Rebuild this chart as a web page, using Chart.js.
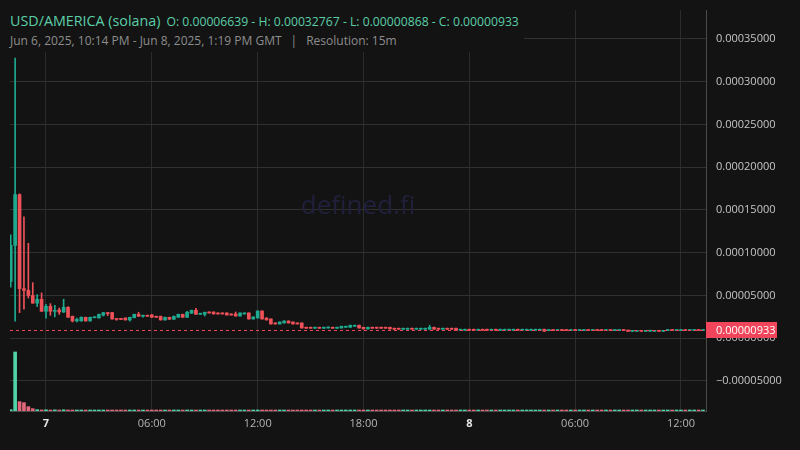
<!DOCTYPE html>
<html>
<head>
<meta charset="utf-8">
<script src="https://cdn.jsdelivr.net/npm/chart.js@4.4.1/dist/chart.umd.min.js"></script>
<style>
  html, body { margin: 0; padding: 0; background: #131313; }
  #wrap { position: relative; width: 800px; height: 450px; font-family: "Open Sans", sans-serif; }
  #c { position: absolute; left: 0; top: 0; }
  #hdr { position: absolute; left: 0; top: 0; width: 524px; height: 52px; background: #131313; }
  .l1 { position: absolute; left: 10px; top: 10px; line-height: 20px; white-space: nowrap; color: #5ccfa8; }
  .l1 .pair { font-size: 14.3px; }
  .l1 .ohlc { font-size: 12.2px; margin-left: 6px; }
  .l2 { position: absolute; left: 10px; top: 33px; line-height: 16px; font-size: 12px; color: #8d8d8d; white-space: nowrap; }
  .l2 .sep { margin: 0 9px; }
</style>
</head>
<body>
<div id="wrap">
  <canvas id="c" width="800" height="450"></canvas>
  <div id="hdr">
    <div class="l1"><span class="pair">USD/AMERICA (solana)</span><span class="ohlc">O: 0.00006639 - H: 0.00032767 - L: 0.00000868 - C: 0.00000933</span></div>
    <div class="l2">Jun 6, 2025, 10:14 PM - Jun 8, 2025, 1:19 PM GMT<span class="sep">|</span>Resolution: 15m</div>
  </div>
</div>
<script>
// candles: 15m, first one Jun 6 22:00 (hours counted from Jun 7 00:00)
const startHour = -2;
const stepHour = 0.25;

const opens = [
  6.639e-5, 1.086e-4, 1.68e-4, 5.8e-5, 5.6e-5, 5.0e-5, 4.1e-5, 4.55e-5, 3.15e-5, 3.74e-5,
  3.15e-5, 3.3e-5, 3.07e-5, 3.62e-5, 2.57e-5, 2.02e-5, 2.02e-5, 2.45e-5, 2.02e-5, 2.4e-5,
  2.37e-5, 2.7e-5, 3.0e-5, 3.0e-5, 2.3e-5, 2.3e-5, 2.37e-5, 2.14e-5, 2.4e-5, 2.8e-5,
  2.57e-5, 2.69e-5, 2.72e-5, 2.57e-5, 2.57e-5, 2.14e-5, 2.45e-5, 2.22e-5, 2.45e-5, 2.8e-5,
  2.45e-5, 2.92e-5, 3.27e-5, 2.8e-5, 2.8e-5, 3.07e-5, 3.07e-5, 2.96e-5, 2.96e-5, 2.96e-5,
  2.84e-5, 2.84e-5, 2.6e-5, 2.84e-5, 2.96e-5, 2.25e-5, 2.37e-5, 3.19e-5, 2.37e-5, 2.25e-5,
  1.79e-5, 1.67e-5, 1.79e-5, 2.02e-5, 1.9e-5, 1.79e-5, 1.79e-5, 1.28e-5, 1.28e-5, 1.17e-5,
  1.28e-5, 1.17e-5, 1.2e-5, 1.28e-5, 1.17e-5, 1.2e-5, 1.28e-5, 1.28e-5, 1.4e-5, 1.52e-5,
  1.28e-5, 1.09e-5, 1.28e-5, 1.28e-5, 1.28e-5, 1.28e-5, 1.28e-5, 1.17e-5, 1.17e-5, 1.05e-5,
  1.05e-5, 1.17e-5, 1.05e-5, 1.05e-5, 1.05e-5, 1.05e-5, 1.28e-5, 1.17e-5, 1.05e-5, 1.17e-5,
  1.17e-5, 1.17e-5, 9.3e-6, 9.3e-6, 1.05e-5, 1.05e-5, 9.3e-6, 1.05e-5, 1.05e-5, 9.3e-6,
  1.05e-5, 9.3e-6, 9.3e-6, 9.3e-6, 9.3e-6, 1.05e-5, 9.3e-6, 9.3e-6, 9.3e-6, 9.3e-6,
  9.3e-6, 1.05e-5, 9.0e-6, 9.5e-6, 9.0e-6, 9.5e-6, 9.5e-6, 9.0e-6, 9.5e-6, 9.0e-6,
  9.0e-6, 9.5e-6, 9.0e-6, 9.5e-6, 9.5e-6, 9.0e-6, 9.5e-6, 9.0e-6, 9.0e-6, 9.5e-6,
  9.5e-6, 8.0e-6, 8.1e-6, 8.6e-6, 8.0e-6, 8.2e-6, 8.0e-6, 8.6e-6, 8.1e-6, 9.0e-6,
  9.4e-6, 9.0e-6, 9.0e-6, 9.4e-6, 9.0e-6, 9.1e-6, 9.4e-6, 9.0e-6
];
const highs = [
  1.21e-4, 3.2767e-4, 1.69e-4, 1.42e-4, 1.11e-4, 6.5e-5, 5.1e-5, 5.3e-5, 3.97e-5, 4.05e-5,
  3.85e-5, 3.54e-5, 4.56e-5, 3.7e-5, 2.6e-5, 2.37e-5, 2.5e-5, 2.47e-5, 2.47e-5, 2.52e-5,
  2.82e-5, 3.02e-5, 3.02e-5, 3.02e-5, 2.32e-5, 2.32e-5, 2.39e-5, 2.47e-5, 2.82e-5, 3.04e-5,
  2.71e-5, 2.71e-5, 2.8e-5, 2.59e-5, 2.59e-5, 2.47e-5, 2.47e-5, 2.59e-5, 2.82e-5, 2.82e-5,
  3.15e-5, 3.29e-5, 3.5e-5, 2.94e-5, 3.06e-5, 3.09e-5, 3.09e-5, 2.98e-5, 2.98e-5, 2.98e-5,
  2.86e-5, 3.07e-5, 2.98e-5, 2.98e-5, 2.98e-5, 2.51e-5, 3.21e-5, 3.21e-5, 2.39e-5, 2.27e-5,
  1.81e-5, 1.92e-5, 2.04e-5, 2.04e-5, 1.92e-5, 1.81e-5, 1.81e-5, 1.3e-5, 1.3e-5, 1.3e-5,
  1.3e-5, 1.3e-5, 1.32e-5, 1.3e-5, 1.3e-5, 1.42e-5, 1.42e-5, 1.54e-5, 1.54e-5, 1.54e-5,
  1.3e-5, 1.3e-5, 1.3e-5, 1.3e-5, 1.3e-5, 1.3e-5, 1.3e-5, 1.19e-5, 1.19e-5, 1.19e-5,
  1.19e-5, 1.19e-5, 1.19e-5, 1.19e-5, 1.19e-5, 1.52e-5, 1.3e-5, 1.19e-5, 1.19e-5, 1.19e-5,
  1.19e-5, 1.19e-5, 1.07e-5, 1.07e-5, 1.07e-5, 1.07e-5, 1.07e-5, 1.07e-5, 1.07e-5, 1.07e-5,
  1.07e-5, 1.07e-5, 1.07e-5, 1.07e-5, 1.07e-5, 1.07e-5, 1.07e-5, 1.07e-5, 1.07e-5, 1.07e-5,
  1.07e-5, 1.07e-5, 9.6e-6, 9.6e-6, 9.6e-6, 9.6e-6, 9.6e-6, 9.6e-6, 9.6e-6, 9.6e-6,
  9.6e-6, 9.6e-6, 9.6e-6, 9.6e-6, 9.6e-6, 9.6e-6, 9.6e-6, 9.6e-6, 9.6e-6, 9.6e-6,
  9.6e-6, 8.7e-6, 8.7e-6, 8.7e-6, 8.7e-6, 8.7e-6, 8.7e-6, 8.7e-6, 8.7e-6, 9.5e-6,
  9.5e-6, 9.5e-6, 9.5e-6, 9.5e-6, 9.5e-6, 9.5e-6, 9.5e-6, 9.5e-6
];
const lows = [
  5.96e-5, 2.0e-5, 3.0e-5, 3.4e-5, 4.7e-5, 4.1e-5, 3.7e-5, 3.15e-5, 2.34e-5, 2.69e-5,
  2.5e-5, 2.8e-5, 3.0e-5, 2.45e-5, 1.9e-5, 1.9e-5, 2.0e-5, 2.0e-5, 2.0e-5, 2.38e-5,
  2.35e-5, 2.6e-5, 2.65e-5, 2.23e-5, 2.1e-5, 2.18e-5, 2.12e-5, 2.0e-5, 2.38e-5, 2.55e-5,
  2.45e-5, 2.55e-5, 2.43e-5, 2.43e-5, 2.12e-5, 2.12e-5, 2.2e-5, 2.2e-5, 2.43e-5, 2.43e-5,
  2.43e-5, 2.9e-5, 2.78e-5, 2.78e-5, 2.6e-5, 2.94e-5, 2.82e-5, 2.82e-5, 2.82e-5, 2.7e-5,
  2.7e-5, 2.58e-5, 2.58e-5, 2.82e-5, 2.23e-5, 2.23e-5, 2.35e-5, 2.23e-5, 2.12e-5, 1.65e-5,
  1.65e-5, 1.65e-5, 1.77e-5, 1.77e-5, 1.65e-5, 1.65e-5, 1.18e-5, 1.15e-5, 1.15e-5, 1.15e-5,
  1.15e-5, 1.15e-5, 1.18e-5, 1.15e-5, 1.15e-5, 1.18e-5, 1.26e-5, 1.26e-5, 1.38e-5, 1.18e-5,
  1.07e-5, 1.07e-5, 1.15e-5, 1.15e-5, 1.15e-5, 1.15e-5, 1.07e-5, 1.03e-5, 1.03e-5, 1.03e-5,
  1.03e-5, 1.03e-5, 1.03e-5, 1.03e-5, 1.03e-5, 1.03e-5, 1.03e-5, 1.03e-5, 1.03e-5, 1.03e-5,
  1.03e-5, 9.1e-6, 9.1e-6, 9.1e-6, 9.1e-6, 9.1e-6, 9.1e-6, 9.1e-6, 9.1e-6, 9.1e-6,
  9.1e-6, 9.1e-6, 9.1e-6, 9.1e-6, 9.1e-6, 9.1e-6, 9.1e-6, 9.1e-6, 9.1e-6, 9.1e-6,
  9.1e-6, 8.0e-6, 8.9e-6, 8.9e-6, 8.9e-6, 8.9e-6, 8.9e-6, 8.9e-6, 8.9e-6, 8.9e-6,
  8.9e-6, 8.9e-6, 8.9e-6, 8.9e-6, 8.9e-6, 8.9e-6, 8.9e-6, 8.9e-6, 8.9e-6, 8.9e-6,
  7.9e-6, 7.9e-6, 7.9e-6, 7.9e-6, 7.9e-6, 7.9e-6, 7.9e-6, 7.9e-6, 7.9e-6, 8.9e-6,
  8.9e-6, 8.9e-6, 8.9e-6, 8.9e-6, 8.9e-6, 8.9e-6, 8.9e-6, 8.9e-6
];
const closes = [
  1.086e-4, 1.68e-4, 5.8e-5, 5.6e-5, 5.0e-5, 4.1e-5, 4.55e-5, 3.15e-5, 3.74e-5, 3.15e-5,
  3.25e-5, 3.07e-5, 3.62e-5, 2.45e-5, 2.02e-5, 2.2e-5, 2.45e-5, 2.02e-5, 2.45e-5, 2.5e-5,
  2.8e-5, 3.0e-5, 2.88e-5, 2.25e-5, 2.2e-5, 2.2e-5, 2.14e-5, 2.45e-5, 2.8e-5, 2.57e-5,
  2.69e-5, 2.57e-5, 2.45e-5, 2.45e-5, 2.14e-5, 2.45e-5, 2.22e-5, 2.57e-5, 2.8e-5, 2.45e-5,
  3.04e-5, 3.27e-5, 2.8e-5, 2.92e-5, 3.04e-5, 2.96e-5, 2.84e-5, 2.84e-5, 2.84e-5, 2.72e-5,
  2.72e-5, 2.6e-5, 2.96e-5, 2.96e-5, 2.25e-5, 2.49e-5, 3.19e-5, 2.25e-5, 2.14e-5, 1.67e-5,
  1.67e-5, 1.9e-5, 2.02e-5, 1.79e-5, 1.67e-5, 1.67e-5, 1.2e-5, 1.17e-5, 1.17e-5, 1.28e-5,
  1.17e-5, 1.28e-5, 1.3e-5, 1.17e-5, 1.28e-5, 1.4e-5, 1.4e-5, 1.52e-5, 1.52e-5, 1.2e-5,
  1.09e-5, 1.28e-5, 1.17e-5, 1.17e-5, 1.17e-5, 1.17e-5, 1.09e-5, 1.05e-5, 1.05e-5, 1.17e-5,
  1.17e-5, 1.05e-5, 1.17e-5, 1.17e-5, 1.17e-5, 1.28e-5, 1.05e-5, 1.05e-5, 1.17e-5, 1.05e-5,
  1.05e-5, 9.3e-6, 1.05e-5, 1.05e-5, 9.3e-6, 9.3e-6, 1.05e-5, 9.3e-6, 9.3e-6, 1.05e-5,
  9.3e-6, 1.05e-5, 1.05e-5, 1.05e-5, 1.05e-5, 9.3e-6, 1.05e-5, 1.05e-5, 1.05e-5, 1.05e-5,
  1.05e-5, 8.2e-6, 9.5e-6, 9.0e-6, 9.5e-6, 9.0e-6, 9.0e-6, 9.5e-6, 9.0e-6, 9.5e-6,
  9.5e-6, 9.0e-6, 9.5e-6, 9.0e-6, 9.0e-6, 9.5e-6, 9.0e-6, 9.5e-6, 9.5e-6, 9.0e-6,
  8.0e-6, 8.6e-6, 8.6e-6, 8.1e-6, 8.5e-6, 8.6e-6, 8.6e-6, 8.1e-6, 8.6e-6, 9.4e-6,
  9.0e-6, 9.4e-6, 9.3e-6, 9.0e-6, 9.3e-6, 9.4e-6, 9.1e-6, 9.33e-6
];
const volumes = [
  1500, 68000, 10800, 9600, 5000, 2700, 1500, 1200, 1400, 800,
  1300, 600, 1400, 900, 700, 500, 600, 400, 500, 300,
  600, 500, 300, 600, 400, 300, 400, 500, 600, 500,
  300, 300, 400, 300, 500, 400, 400, 500, 500, 500,
  700, 600, 700, 300, 400, 300, 400, 300, 300, 400,
  300, 400, 400, 300, 600, 400, 800, 800, 400, 600,
  300, 400, 400, 300, 400, 300, 600, 300, 250, 300,
  250, 300, 300, 250, 300, 400, 300, 400, 300, 400,
  400, 400, 300, 250, 300, 250, 400, 300, 250, 300,
  250, 300, 250, 300, 250, 500, 400, 300, 250, 300,
  300, 400, 250, 300, 250, 300, 250, 300, 250, 300,
  250, 300, 250, 300, 250, 300, 250, 300, 250, 300,
  250, 400, 250, 300, 250, 300, 250, 300, 250, 300,
  250, 300, 250, 300, 250, 300, 250, 300, 250, 300,
  400, 300, 250, 300, 250, 300, 250, 300, 250, 300,
  250, 300, 250, 300, 250, 300, 250, 300
];

const timeTicks = [0, 6, 12, 18, 24, 30, 36];
const timeLabels = ['7', '06:00', '12:00', '18:00', '8', '06:00', '12:00'];
const priceTicks = [-0.00005, 0, 0.00005, 0.0001, 0.00015, 0.0002, 0.00025, 0.0003, 0.00035];
const lastPrice = 0.00000933;

const UP = '#1fa98f', DOWN = '#ef5159';
const VOL_UP = '#4fd3a7', VOL_DOWN = '#e3677a';
const FONT = '"Open Sans", sans-serif';

const times = opens.map((_, i) => startHour + i * stepHour);
const isUp = opens.map((o, i) => closes[i] >= o);

const bodies = times.map((t, i) => ({ x: t, y: [opens[i], closes[i]] }));
const wicks = times.map((t, i) => ({ x: t, y: [lows[i], highs[i]] }));
const vols = times.map((t, i) => ({ x: t, y: volumes[i] }));

function priceLabel(v) {
  const s = Math.abs(v).toFixed(8);
  return v < -1e-12 ? '\u2212' + s : s;
}

// watermark, price line and last price tag
const overlay = {
  id: 'overlay',
  beforeDatasetsDraw(chart) {
    const { ctx, chartArea } = chart;
    ctx.save();
    ctx.font = '26px ' + FONT;
    ctx.fillStyle = '#20203c';
    ctx.textAlign = 'center';
    ctx.textBaseline = 'middle';
    ctx.fillText('defined.fi', (chartArea.left + chartArea.right) / 2, 207);
    ctx.restore();
  },
  afterDatasetsDraw(chart) {
    const { ctx, chartArea } = chart;
    const y = Math.round(chart.scales.y.getPixelForValue(lastPrice)) + 0.5;
    ctx.save();
    ctx.strokeStyle = '#f0455a';
    ctx.lineWidth = 1;
    ctx.setLineDash([3, 3]);
    ctx.beginPath();
    ctx.moveTo(chartArea.left, y);
    ctx.lineTo(chartArea.right, y);
    ctx.stroke();
    ctx.restore();
  },
  afterDraw(chart) {
    const { ctx, chartArea } = chart;
    const y = Math.round(chart.scales.y.getPixelForValue(lastPrice));
    ctx.save();
    ctx.fillStyle = '#f0455a';
    ctx.fillRect(chartArea.right, y - 8, 71, 16);
    ctx.fillStyle = '#ffffff';
    ctx.font = '11px ' + FONT;
    ctx.textBaseline = 'middle';
    ctx.fillText(priceLabel(lastPrice), chartArea.right + 10, y + 0.5);
    ctx.restore();
  }
};

new Chart(document.getElementById('c'), {
  type: 'bar',
  data: {
    datasets: [
      {
        label: 'body', data: bodies, yAxisID: 'y', order: 0, grouped: false,
        barThickness: 3, minBarLength: 1, borderWidth: 0,
        backgroundColor: ctx => isUp[ctx.dataIndex] ? UP : DOWN
      },
      {
        label: 'wick', data: wicks, yAxisID: 'y', order: 1, grouped: false,
        barThickness: 1, minBarLength: 1, borderWidth: 0,
        backgroundColor: ctx => isUp[ctx.dataIndex] ? UP : DOWN
      },
      {
        label: 'volume', data: vols, yAxisID: 'yv', order: 2, grouped: false,
        barThickness: 3, minBarLength: 1, borderWidth: 0,
        backgroundColor: ctx => isUp[ctx.dataIndex] ? VOL_UP : VOL_DOWN
      }
    ]
  },
  options: {
    responsive: false,
    animation: false,
    devicePixelRatio: 1,
    layout: { padding: { left: 10, top: 10, right: 0, bottom: 0 } },
    plugins: { legend: { display: false }, tooltip: { enabled: false } },
    scales: {
      x: {
        type: 'linear', min: -2.041, max: 37.42, offset: false,
        grid: { color: '#2c2c2c', drawTicks: false, offset: false },
        border: { display: true, color: '#4a4a4a' },
        ticks: {
          padding: 6, maxRotation: 0, autoSkip: false,
          color: ctx => ctx.tick && ctx.tick.value % 24 === 0 ? '#e6e6e6' : '#b4b4b4',
          font: ctx => ({ family: FONT, size: 11, weight: ctx.tick && ctx.tick.value % 24 === 0 ? 'bold' : 'normal' }),
          callback: v => timeLabels[timeTicks.indexOf(v)]
        },
        afterBuildTicks: s => { s.ticks = timeTicks.map(v => ({ value: v })); },
        afterFit: s => { s.height = 39; s.paddingLeft = 0; s.paddingRight = 0; }
      },
      y: {
        type: 'linear', position: 'right', min: -0.0000851, max: 0.0003839,
        grid: { color: '#303030', drawTicks: false },
        border: { display: true, color: '#4a4a4a' },
        ticks: {
          padding: 10, color: '#c6c6c6', font: { family: FONT, size: 11 },
          callback: v => priceLabel(v)
        },
        afterBuildTicks: s => { s.ticks = priceTicks.map(v => ({ value: v })); },
        afterFit: s => { s.width = 94; s.paddingTop = 0; s.paddingBottom = 0; }
      },
      yv: {
        type: 'linear', display: false, min: 0, max: 462000
      }
    }
  },
  plugins: [overlay]
});
</script>
</body>
</html>
